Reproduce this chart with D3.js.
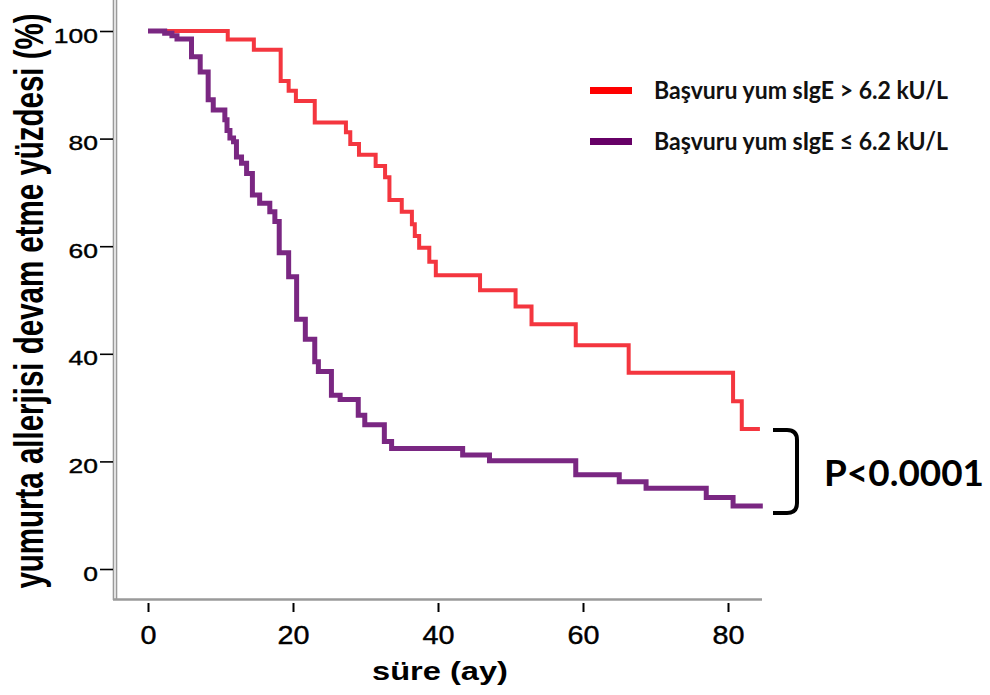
<!DOCTYPE html>
<html>
<head>
<meta charset="utf-8">
<script src="https://cdn.jsdelivr.net/npm/d3@7"></script>
<style>
  body { margin: 0; background: #fff; }
</style>
</head>
<body>
<div id="container"></div>
<script>
/* DATA */
// group 1: Başvuru yum sIgE > 6.2 kU/L  (time in months, survival %)
const highTimes = [0, 11.0, 14.6, 18.3, 19.4, 20.4, 23.0, 27.3, 27.9, 29.1, 31.4, 32.7, 33.3, 35.0, 36.4, 36.8, 37.4, 38.8, 39.7, 45.8, 50.7, 52.9, 59.0, 66.3, 80.7, 81.9, 84.4];
const highSurv  = [100, 98.4, 96.5, 90.7, 88.9, 87.0, 83.0, 81.2, 79.0, 77.0, 74.9, 72.8, 68.6, 66.4, 64.1, 61.9, 59.7, 57.1, 54.6, 51.8, 48.8, 45.5, 41.6, 36.5, 31.2, 26.0, 26.0];

// group 2: Başvuru yum sIgE ≤ 6.2 kU/L
const lowTimes = [0, 2.3, 3.3, 4.0, 6.0, 7.2, 8.3, 9.0, 10.6, 10.9, 11.3, 11.8, 12.2, 12.9, 13.6, 14.4, 15.4, 16.8, 17.5, 18.1, 19.4, 20.5, 21.7, 23.0, 23.5, 25.3, 26.5, 29.0, 29.9, 32.6, 33.6, 43.4, 47.1, 59.0, 65.0, 68.7, 77.0, 80.7, 84.8];
const lowSurv  = [100, 99.6, 99.1, 98.5, 95.2, 92.4, 87.2, 85.3, 83.5, 81.5, 80.1, 79.4, 76.6, 75.4, 73.5, 69.5, 68.0, 66.4, 64.6, 58.8, 54.3, 46.4, 42.7, 38.5, 36.7, 32.3, 31.5, 28.6, 26.8, 23.7, 22.4, 21.2, 20.1, 17.5, 16.2, 15.0, 13.3, 11.7, 11.7];

const legendLabels = ["Başvuru yum sIgE > 6.2 kU/L", "Başvuru yum sIgE ≤ 6.2 kU/L"];
const xTicks = [0, 20, 40, 60, 80];
const yTicks = [0, 20, 40, 60, 80, 100];

/* CONSTANTS */
const width = 990;
const height = 695;
const lineColors = ["#f4363f", "#7a2782"];
const lineWidths = [4, 5];
const swatchColors = ["#ff0000", "#660066"];
const axisFont = "'Liberation Sans', Arial, sans-serif";

const svg = d3
  .select("#container")
  .append("svg")
  .attr("width", width)
  .attr("height", height);

/* SCALES */
const xScale = d3.scaleLinear().domain([0, 80]).range([148, 728]);
const yScale = d3.scaleLinear().domain([0, 100]).range([569, 31]);

// AXIS LINES (gray) ------------------------------------------
svg.append("line")
  .attr("x1", 113.5).attr("x2", 113.5).attr("y1", 0).attr("y2", 600)
  .attr("stroke", "#9a9a9a").attr("stroke-width", 1.6);
svg.append("line")
  .attr("x1", 116.5).attr("x2", 116.5).attr("y1", 0).attr("y2", 600)
  .attr("stroke", "#9a9a9a").attr("stroke-width", 1.6);
svg.append("line")
  .attr("x1", 113).attr("x2", 762).attr("y1", 599.5).attr("y2", 599.5)
  .attr("stroke", "#9a9a9a").attr("stroke-width", 2.5);

// X AXIS -----------------------------------------------------
const xAxis = svg.append("g")
  .attr("transform", "translate(0,600)")
  .call(d3.axisBottom(xScale).tickValues(xTicks).tickSize(12).tickSizeOuter(0));
xAxis.select(".domain").remove();
xAxis.selectAll(".tick line")
  .attr("y1", 3).attr("y2", 12)
  .attr("stroke", "#000").attr("stroke-width", 2);
xAxis.selectAll(".tick text")
  .attr("y", 0).attr("dy", 0)
  .attr("transform", "translate(0,44) scale(1.15,1)")
  .style("font-family", axisFont)
  .style("font-size", "25px")
  .attr("fill", "#000")
  .attr("stroke", "#000")
  .attr("stroke-width", 0.4);

// Y AXIS -----------------------------------------------------
const yAxis = svg.append("g")
  .attr("transform", "translate(113,0)")
  .call(d3.axisLeft(yScale).tickValues(yTicks).tickSize(13).tickSizeOuter(0));
yAxis.select(".domain").remove();
yAxis.selectAll(".tick line")
  .attr("stroke", "#000").attr("stroke-width", 1.6);
yAxis.selectAll(".tick text")
  .attr("x", 0).attr("dy", 0)
  .attr("transform", "translate(-15,11) scale(1.26,1)")
  .style("font-family", axisFont)
  .style("font-size", "21px")
  .attr("fill", "#000")
  .attr("stroke", "#000")
  .attr("stroke-width", 0.4);

// AXIS LABELS ------------------------------------------------
svg.append("text")
  .attr("transform", "translate(440,680) scale(1.28,1)")
  .attr("text-anchor", "middle")
  .style("font-family", axisFont)
  .style("font-weight", "bold")
  .style("font-size", "25.5px")
  .text("süre (ay)");

svg.append("text")
  .attr("transform", "translate(43,301) scale(1.38,1) rotate(-90)")
  .attr("text-anchor", "middle")
  .style("font-family", axisFont)
  .style("font-weight", "bold")
  .style("font-size", "29.5px")
  .text("yumurta allerjisi devam etme yüzdesi (%)");

// SURVIVAL CURVES --------------------------------------------
const stepLine = d3.line()
  .x((d) => xScale(d[0]))
  .y((d) => yScale(d[1]))
  .curve(d3.curveStepAfter);

const series = [
  d3.zip(highTimes, highSurv),
  d3.zip(lowTimes, lowSurv),
];

svg.selectAll(".km")
  .data(series)
  .join("path")
  .attr("class", "km")
  .attr("d", stepLine)
  .attr("fill", "none")
  .attr("stroke", (d, i) => lineColors[i])
  .attr("stroke-width", (d, i) => lineWidths[i])
  .attr("stroke-linejoin", "miter");

// LEGEND -----------------------------------------------------
svg.selectAll(".legend-swatch")
  .data(legendLabels)
  .join("rect")
  .attr("class", "legend-swatch")
  .attr("x", 590)
  .attr("y", (d, i) => 87 + i * 51)
  .attr("width", 42)
  .attr("height", 7)
  .attr("fill", (d, i) => swatchColors[i]);

svg.selectAll(".legend-label")
  .data(legendLabels)
  .join("text")
  .attr("class", "legend-label")
  .attr("x", 654)
  .attr("y", (d, i) => 99 + i * 51)
  .attr("textLength", 294)
  .attr("lengthAdjust", "spacingAndGlyphs")
  .style("font-family", "Lato, 'Open Sans', sans-serif")
  .style("font-weight", "bold")
  .style("font-size", "24px")
  .attr("fill", "#111")
  .text((d) => d);

// P VALUE BRACKET --------------------------------------------
svg.append("path")
  .attr("d", "M773,430 L787,430 Q797,430 797,440 L797,503 Q797,513 787,513 L773,513")
  .attr("fill", "none")
  .attr("stroke", "#000")
  .attr("stroke-width", 4);

svg.append("text")
  .attr("x", 824)
  .attr("y", 486)
  .attr("textLength", 160)
  .attr("lengthAdjust", "spacingAndGlyphs")
  .style("font-family", "Lato, 'Open Sans', sans-serif")
  .style("font-weight", "bold")
  .style("font-size", "36px")
  .attr("fill", "#000")
  .text("P<0.0001");
</script>
</body>
</html>
